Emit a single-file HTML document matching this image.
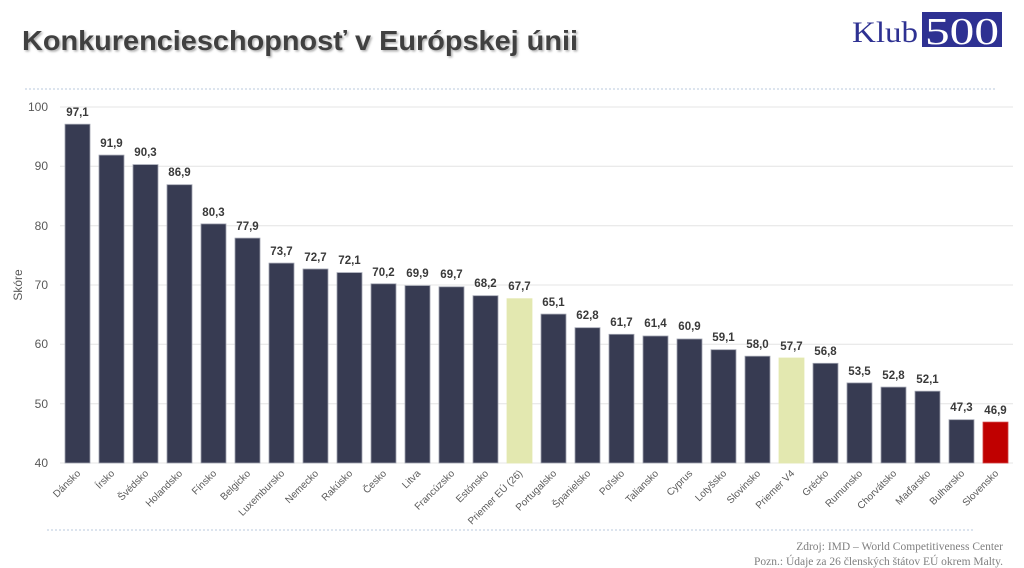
<!DOCTYPE html>
<html><head><meta charset="utf-8"><style>
html,body{margin:0;padding:0;background:#fff;}
svg{display:block;font-family:"Liberation Sans",sans-serif;}
</style></head><body>
<svg width="1024" height="568" viewBox="0 0 1024 568" xmlns="http://www.w3.org/2000/svg">
<defs><filter id="sh" x="-5%" y="-20%" width="110%" height="150%"><feDropShadow dx="1.5" dy="1.5" stdDeviation="1" flood-color="#999" flood-opacity="0.8"/></filter></defs>
<text x="22" y="50" font-size="28" font-weight="bold" fill="#404040" textLength="556" lengthAdjust="spacingAndGlyphs" filter="url(#sh)">Konkurencieschopnosť v Európskej únii</text>
<text x="852" y="42" font-family="Liberation Serif,serif" font-size="30" fill="#2e3192" textLength="66" lengthAdjust="spacingAndGlyphs">Klub</text>
<rect x="922" y="12" width="80" height="35" fill="#2e3192"/>
<text x="925" y="44" font-family="Liberation Serif,serif" font-size="38" fill="#fff" textLength="74" lengthAdjust="spacingAndGlyphs">500</text>
<line x1="25" y1="89" x2="995" y2="89" stroke="#b8c8dc" stroke-width="1" stroke-dasharray="2,2"/>
<line x1="47" y1="530" x2="975" y2="530" stroke="#b8c8dc" stroke-width="1" stroke-dasharray="2,2"/>
<g stroke="#e4e4e4" stroke-width="1">
<line x1="60" y1="107" x2="1013" y2="107"/><line x1="60" y1="166.3" x2="1013" y2="166.3"/><line x1="60" y1="225.7" x2="1013" y2="225.7"/><line x1="60" y1="285" x2="1013" y2="285"/><line x1="60" y1="344.3" x2="1013" y2="344.3"/><line x1="60" y1="403.7" x2="1013" y2="403.7"/><line x1="60" y1="463" x2="1013" y2="463"/>
</g>
<g font-size="12" fill="#595959" text-anchor="end">
<text x="48" y="111">100</text><text x="48" y="170">90</text><text x="48" y="230">80</text><text x="48" y="289">70</text><text x="48" y="348">60</text><text x="48" y="408">50</text><text x="48" y="467">40</text>
</g>
<text transform="translate(22,285) rotate(-90)" font-size="12" fill="#595959" text-anchor="middle">Skóre</text>
<g stroke="#a0a3b0" stroke-width="0.8" fill="#373b52">
<rect x="65" y="124.2" width="25" height="338.8"/>
<rect x="99" y="155.1" width="25" height="307.9"/>
<rect x="133" y="164.6" width="25" height="298.4"/>
<rect x="167" y="184.7" width="25" height="278.3"/>
<rect x="201" y="223.9" width="25" height="239.1"/>
<rect x="235" y="238.1" width="25" height="224.9"/>
<rect x="269" y="263.1" width="25" height="199.9"/>
<rect x="303" y="269" width="25" height="194"/>
<rect x="337" y="272.6" width="25" height="190.4"/>
<rect x="371" y="283.8" width="25" height="179.2"/>
<rect x="405" y="285.6" width="25" height="177.4"/>
<rect x="439" y="286.8" width="25" height="176.2"/>
<rect x="473" y="295.7" width="25" height="167.3"/>
<rect x="507" y="298.7" width="25" height="164.3" fill="#e3e8b0" stroke="#e3e8b0"/>
<rect x="541" y="314.1" width="25" height="148.9"/>
<rect x="575" y="327.7" width="25" height="135.3"/>
<rect x="609" y="334.3" width="25" height="128.7"/>
<rect x="643" y="336" width="25" height="127"/>
<rect x="677" y="339" width="25" height="124"/>
<rect x="711" y="349.7" width="25" height="113.3"/>
<rect x="745" y="356.2" width="25" height="106.8"/>
<rect x="779" y="358" width="25" height="105" fill="#e3e8b0" stroke="#e3e8b0"/>
<rect x="813" y="363.3" width="25" height="99.7"/>
<rect x="847" y="382.9" width="25" height="80.1"/>
<rect x="881" y="387.1" width="25" height="75.9"/>
<rect x="915" y="391.2" width="25" height="71.8"/>
<rect x="949" y="419.7" width="25" height="43.3"/>
<rect x="983" y="422.1" width="25" height="40.9" fill="#c00000" stroke="#d04040"/>
</g>
<g font-size="11.5" font-weight="bold" fill="#3a3a3a" text-anchor="middle">
<text x="77.5" y="116">97,1</text><text x="111.5" y="147">91,9</text><text x="145.5" y="156">90,3</text><text x="179.5" y="176">86,9</text><text x="213.5" y="216">80,3</text><text x="247.5" y="230">77,9</text><text x="281.5" y="255">73,7</text><text x="315.5" y="261">72,7</text><text x="349.5" y="264">72,1</text><text x="383.5" y="276">70,2</text><text x="417.5" y="277">69,9</text><text x="451.5" y="278">69,7</text><text x="485.5" y="287">68,2</text><text x="519.5" y="290">67,7</text><text x="553.5" y="306">65,1</text><text x="587.5" y="319">62,8</text><text x="621.5" y="326">61,7</text><text x="655.5" y="327">61,4</text><text x="689.5" y="330">60,9</text><text x="723.5" y="341">59,1</text><text x="757.5" y="348">58,0</text><text x="791.5" y="350">57,7</text><text x="825.5" y="355">56,8</text><text x="859.5" y="375">53,5</text><text x="893.5" y="379">52,8</text><text x="927.5" y="383">52,1</text><text x="961.5" y="411">47,3</text><text x="995.5" y="414">46,9</text>
</g>
<g font-size="10" fill="#595959" text-anchor="end">
<text transform="translate(81,474) rotate(-45)">Dánsko</text>
<text transform="translate(115,474) rotate(-45)">Írsko</text>
<text transform="translate(149,474) rotate(-45)">Švédsko</text>
<text transform="translate(183,474) rotate(-45)">Holandsko</text>
<text transform="translate(217,474) rotate(-45)">Fínsko</text>
<text transform="translate(251,474) rotate(-45)">Belgicko</text>
<text transform="translate(285,474) rotate(-45)">Luxembursko</text>
<text transform="translate(319,474) rotate(-45)">Nemecko</text>
<text transform="translate(353,474) rotate(-45)">Rakúsko</text>
<text transform="translate(387,474) rotate(-45)">Česko</text>
<text transform="translate(421,474) rotate(-45)">Litva</text>
<text transform="translate(455,474) rotate(-45)">Francúzsko</text>
<text transform="translate(489,474) rotate(-45)">Estónsko</text>
<text transform="translate(523,474) rotate(-45)">Priemer EÚ (26)</text>
<text transform="translate(557,474) rotate(-45)">Portugalsko</text>
<text transform="translate(591,474) rotate(-45)">Španielsko</text>
<text transform="translate(625,474) rotate(-45)">Poľsko</text>
<text transform="translate(659,474) rotate(-45)">Taliansko</text>
<text transform="translate(693,474) rotate(-45)">Cyprus</text>
<text transform="translate(727,474) rotate(-45)">Lotyšsko</text>
<text transform="translate(761,474) rotate(-45)">Slovinsko</text>
<text transform="translate(795,474) rotate(-45)">Priemer V4</text>
<text transform="translate(829,474) rotate(-45)">Grécko</text>
<text transform="translate(863,474) rotate(-45)">Rumunsko</text>
<text transform="translate(897,474) rotate(-45)">Chorvátsko</text>
<text transform="translate(931,474) rotate(-45)">Maďarsko</text>
<text transform="translate(965,474) rotate(-45)">Bulharsko</text>
<text transform="translate(999,474) rotate(-45)">Slovensko</text>
</g>
<g font-family="Liberation Serif,serif" font-size="11.5" fill="#808080" text-anchor="end">
<text x="1003" y="550">Zdroj: IMD – World Competitiveness Center</text>
<text x="1003" y="565">Pozn.: Údaje za 26 členských štátov EÚ okrem Malty.</text>
</g>
</svg>
</body></html>
